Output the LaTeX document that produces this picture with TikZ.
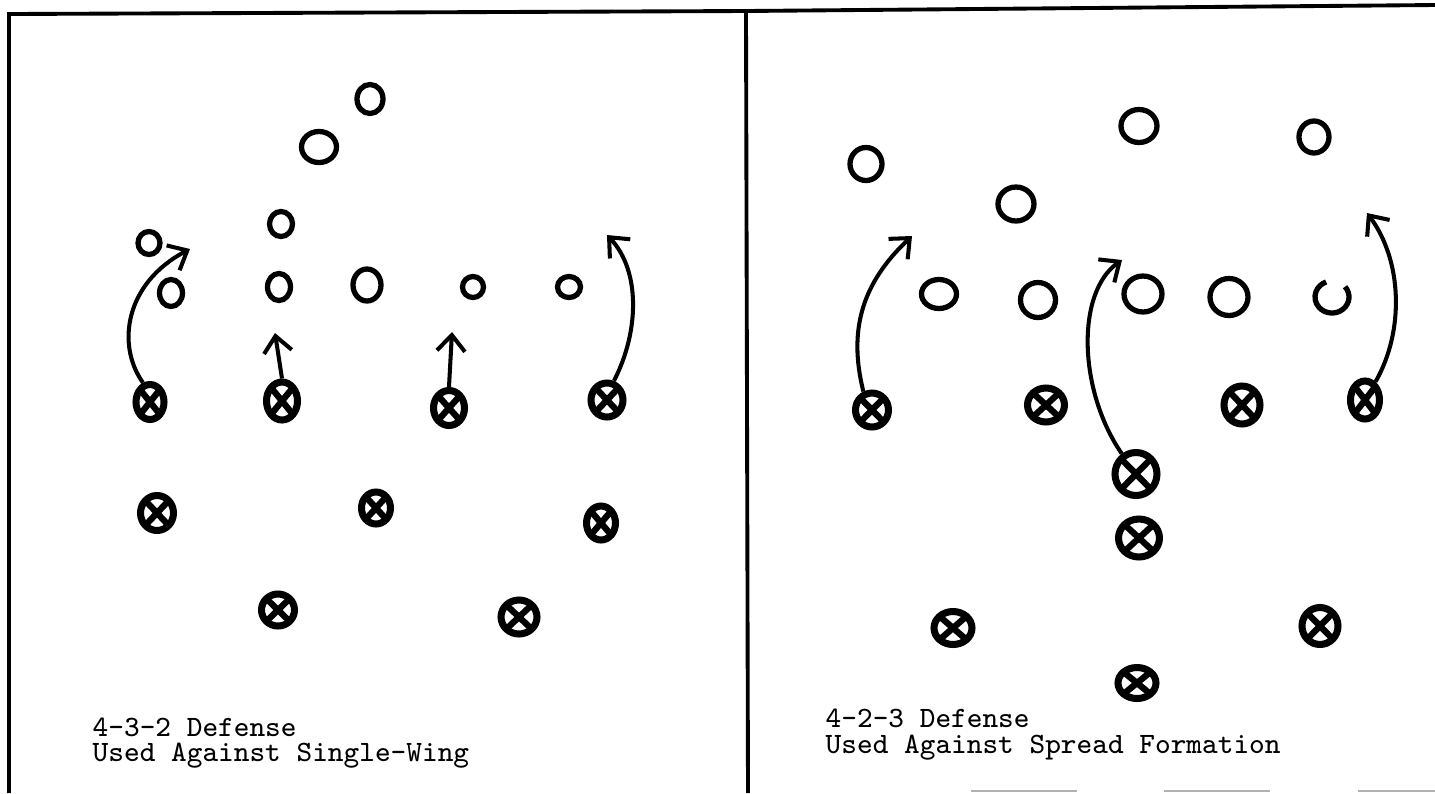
\documentclass[tikz,border=0pt]{standalone}
\usetikzlibrary{shapes.geometric,arrows.meta}
\begin{document}
\begin{tikzpicture}[x=0.01cm,y=-0.01cm,
  off/.style 2 args={ellipse, draw, line width=1.5pt, inner sep=0pt,
    minimum width=#1*0.01cm, minimum height=#2*0.01cm},
  dfn/.style 2 args={ellipse, draw, line width=2pt, inner sep=0pt,
    minimum width=#1*0.01cm, minimum height=#2*0.01cm,
    path picture={\draw[line width=1.8pt]
      (path picture bounding box.south west) -- (path picture bounding box.north east)
      (path picture bounding box.north west) -- (path picture bounding box.south east);}},
  mv/.style={line width=1.15pt, -{Straight Barb[length=0.16cm,width=0.28cm,line width=1.15pt]}},
  frameline/.style={line width=1.1pt},
  captxt/.style={anchor=base west, inner sep=0pt, font=\fontsize{8.4}{8.4}\selectfont\ttfamily}]
\useasboundingbox[fill=white] (0,0) rectangle (1435,793);

% frame
\coordinate (tl) at (9,14);
\coordinate (tm) at (746,11);
\coordinate (tr) at (1435,5);
\coordinate (bl) at (9,793);
\coordinate (bm) at (748,793);
\draw[frameline] (bl) -- (tl) -- (tm) -- (tr);
\draw[frameline] (tm) -- (bm);
\coordinate (bx1) at (971,791);
\coordinate (bx2) at (1435,791);
\draw[line width=0.8pt, gray!60, dash pattern=on 30pt off 25pt] (bx1) -- (bx2);

% ---------- left panel: offense ----------
\node[off={26}{29}] (lo1) at (370,99) {};
\node[off={35}{31}] (lo2) at (319,147) {};
\node[off={23}{25}] (lo3) at (281,224) {};
\node[off={22}{23}] (lo4) at (149,243) {};
\node[off={23}{27}] (lo5) at (171,293) {};
\node[off={23}{27}] (lo6) at (279,287) {};
\node[off={28}{32}] (lo7) at (367,285) {};
\node[off={21}{21}] (lo8) at (473,287) {};
\node[off={23}{21}] (lo9) at (569,287) {};

% left panel: defense
\node[dfn={28}{35}] (lx1) at (150,402) {};
\node[dfn={31}{38}] (lx2) at (282,401) {};
\node[dfn={31}{35}] (lx3) at (449,408) {};
\node[dfn={32}{34}] (lx4) at (607,400) {};
\node[dfn={33}{35}] (lx5) at (157,513) {};
\node[dfn={29}{32}] (lx6) at (376,508) {};
\node[dfn={29}{34}] (lx7) at (601,523) {};
\node[dfn={33}{32}] (lx8) at (278,610) {};
\node[dfn={36}{34}] (lx9) at (519,617) {};

% left panel: moves
\coordinate (ta1) at (190,249);
\coordinate (ta2) at (275,333);
\coordinate (ta3) at (452,332);
\coordinate (ta4) at (607,235);
\draw[mv] (lx1.110) .. controls (116,345) and (125,283) .. (ta1);
\draw[mv] (lx2.north) -- (ta2);
\draw[mv] (lx3.north) -- (ta3);
\draw[mv] (lx4.70) .. controls (640,330) and (640,270) .. (ta4);

\node[captxt] (lt1) at (92,736) {4-3-2 Defense};
\node[captxt] (lt2) at (92,761) {Used Against Single-Wing};

% ---------- right panel: offense ----------
\node[off={32}{33}] (ro1) at (866,164) {};
\node[off={36}{33}] (ro2) at (1139,126) {};
\node[off={30}{32}] (ro3) at (1314,137) {};
\node[off={36}{34}] (ro4) at (1016,204) {};
\node[off={35}{29}] (ro5) at (939,294) {};
\node[off={35}{35}] (ro6) at (1038,300) {};
\node[off={38}{36}] (ro7) at (1143,294) {};
\node[off={38}{37}] (ro8) at (1229,297) {};
\coordinate (ro9) at (1332,297);
\draw[line width=1.5pt] ([shift={(-40:17 and 16)}]ro9) arc[start angle=-40, end angle=250, x radius=17, y radius=16];

% right panel: defense
\node[dfn={33}{34}] (rx1) at (872,410) {};
\node[dfn={37}{34}] (rx2) at (1046,405) {};
\node[dfn={36}{38}] (rx3) at (1242,405) {};
\node[dfn={29}{38}] (rx4) at (1365,400) {};
\node[dfn={42}{43}] (rx5) at (1136,474) {};
\node[dfn={41}{38}] (rx6) at (1139,538) {};
\node[dfn={38}{33}] (rx7) at (953,628) {};
\node[dfn={36}{37}] (rx8) at (1320,626) {};
\node[dfn={38}{31}] (rx9) at (1137,683) {};

% right panel: moves
\coordinate (tb1) at (912,236);
\coordinate (tb2) at (1122,260);
\coordinate (tb3) at (1367,213);
\draw[mv] (rx1.115) .. controls (848,330) and (862,283) .. (tb1);
\draw[mv] (rx5.125) .. controls (1078,390) and (1076,292) .. (tb2);
\draw[mv] (rx4.60) .. controls (1405,330) and (1402,260) .. (tb3);

\node[captxt] (rt1) at (825,727) {4-2-3 Defense};
\node[captxt] (rt2) at (825,753) {Used Against Spread Formation};
\end{tikzpicture}
\end{document}
